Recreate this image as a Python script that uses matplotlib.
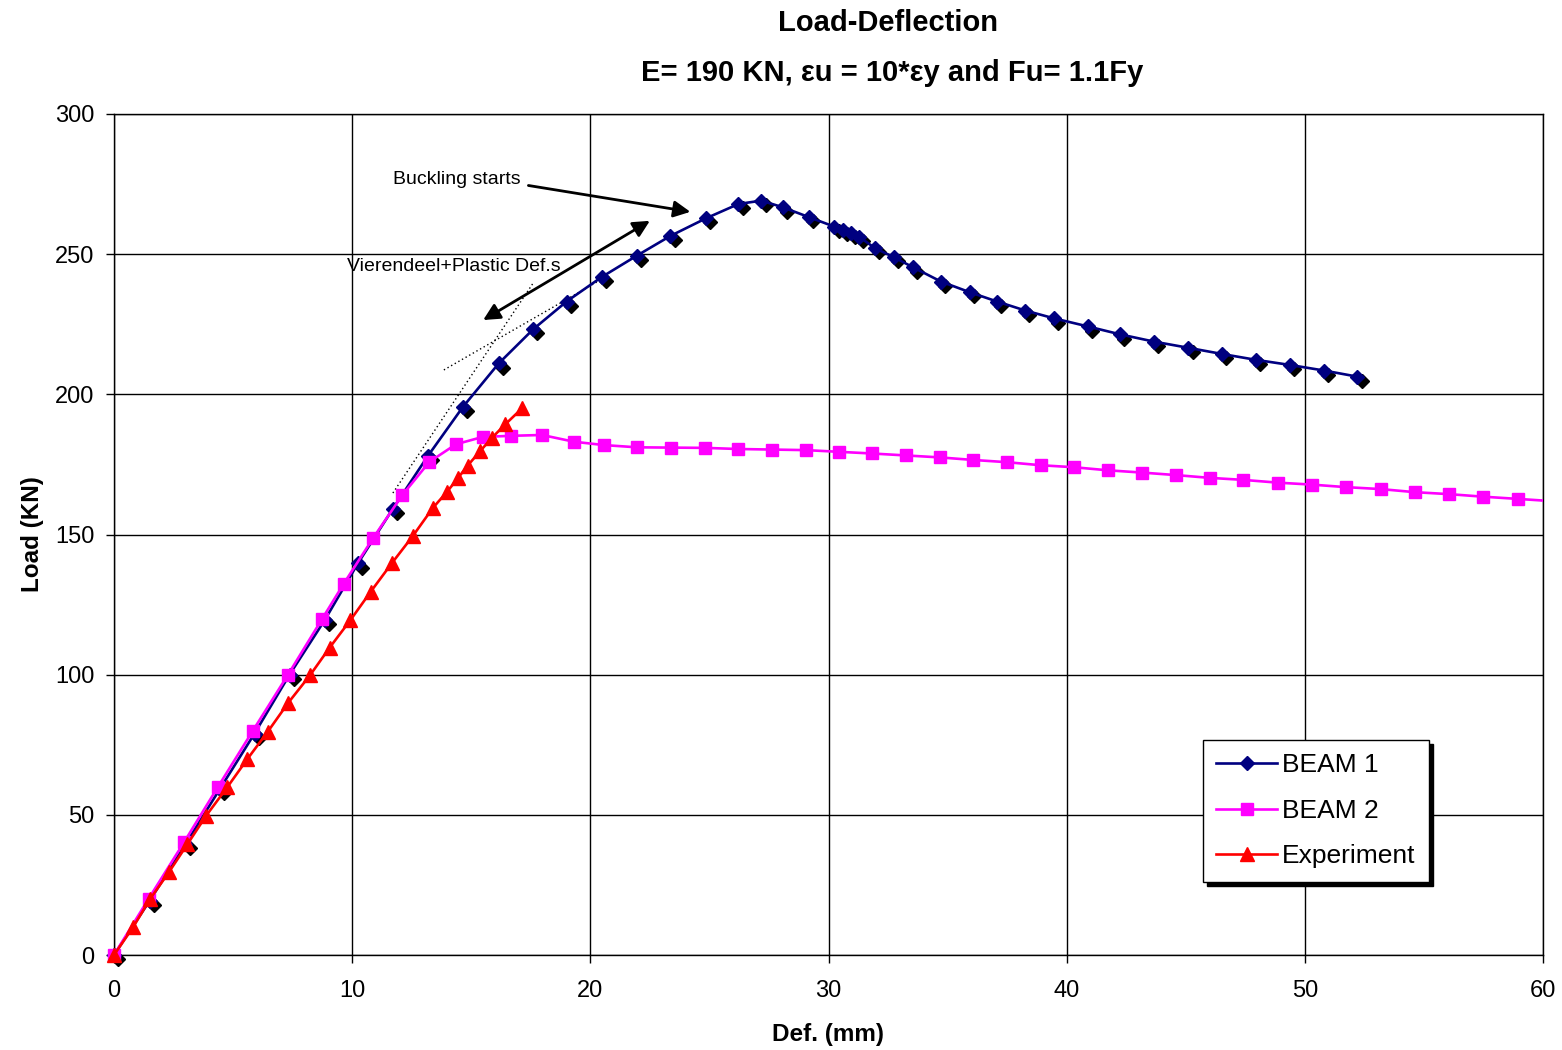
import matplotlib
matplotlib.use("Agg")
import matplotlib.pyplot as plt
from matplotlib.patches import Rectangle
from matplotlib.transforms import ScaledTranslation

plt.rcParams['font.family'] = ['Liberation Sans', 'DejaVu Sans']

# ---------------- data ----------------
beam1_x = [0.0, 1.5, 3.0, 4.45, 5.9, 7.37, 8.85, 10.24, 11.71, 13.17, 14.64, 16.15,
           17.6, 19.0, 20.47, 21.94, 23.36, 24.86, 26.22, 27.18, 28.09, 29.18,
           30.25, 30.59, 30.93, 31.27, 31.96, 32.75, 33.55, 34.73, 35.94, 37.08,
           38.26, 39.47, 40.9, 42.24, 43.67, 45.11, 46.52, 47.95, 49.36, 50.8, 52.21]
beam1_y = [0.0, 19.4, 39.5, 59.3, 79.0, 100.0, 119.5, 139.7, 159.2, 177.9, 195.4, 211.0,
           223.2, 233.1, 241.8, 249.4, 256.5, 262.8, 267.9, 269.1, 266.7, 263.2,
           259.8, 258.7, 257.7, 256.3, 252.1, 248.9, 245.3, 240.2, 236.4, 233.1,
           229.9, 227.1, 224.2, 221.4, 218.8, 216.6, 214.4, 212.3, 210.5, 208.5, 206.3]

beam2_x = [0.0, 1.45, 2.94, 4.36, 5.83, 7.3, 8.74, 9.65, 10.87, 12.1, 13.24, 14.36,
           15.48, 16.67, 17.97, 19.31, 20.57, 21.96, 23.38, 24.81, 26.2, 27.62,
           29.05, 30.43, 31.82, 33.25, 34.68, 36.06, 37.49, 38.92, 40.3, 41.73,
           43.15, 44.58, 46.01, 47.39, 48.86, 50.29, 51.72, 53.19, 54.62, 56.05,
           57.47, 58.94, 60.38]
beam2_y = [0.0, 20.0, 40.2, 59.9, 80.0, 99.9, 119.9, 132.5, 148.6, 164.0, 175.9, 182.2,
           184.8, 185.2, 185.5, 183.1, 181.9, 181.1, 181.0, 180.9, 180.5, 180.3,
           180.1, 179.5, 178.9, 178.2, 177.5, 176.6, 175.8, 174.7, 174.0, 172.9,
           172.1, 171.2, 170.2, 169.5, 168.5, 167.8, 166.9, 166.2, 165.1, 164.4,
           163.5, 162.7, 161.9]

exp_x = [0.0, 0.8, 1.5, 2.31, 3.08, 3.87, 4.76, 5.59, 6.46, 7.31, 8.24, 9.05, 9.93,
         10.77, 11.66, 12.55, 13.38, 13.99, 14.43, 14.85, 15.38, 15.87, 16.43, 17.13]
exp_y = [0.0, 9.9, 19.8, 29.6, 39.5, 49.7, 59.9, 69.8, 79.7, 89.9, 99.9, 109.6, 119.5,
         129.5, 139.7, 149.5, 159.4, 165.3, 170.0, 174.6, 179.8, 184.5, 189.3, 195.0]

series_names = ['BEAM 1', 'BEAM 2', 'Experiment']
x_ticks = [0, 10, 20, 30, 40, 50, 60]
y_ticks = [0, 50, 100, 150, 200, 250, 300]

# tangent (dotted) guide lines
tangent1_x = [11.71, 17.6]
tangent1_y = [164.8, 239.7]
tangent2_x = [13.85, 20.28]
tangent2_y = [208.7, 240.1]

# ---------------- figure ----------------
fig = plt.figure(figsize=(15.62, 10.5), dpi=100)
ax = fig.add_axes([114/1562, 1-955/1050, (1543-114)/1562, (955-114)/1050])

clip_rect = Rectangle((-0.05, -0.05), 1.05, 1.1, transform=ax.transAxes,
                      facecolor='none', edgecolor='none')
ax.add_patch(clip_rect)
clip_rect.set_visible(False)

# BEAM 1 shadow markers
shadow_tr = ax.transData + ScaledTranslation(3/72, -3/72, fig.dpi_scale_trans)
sh, = ax.plot(beam1_x, beam1_y, linestyle='none', marker='D', markersize=7.5,
              color='black', transform=shadow_tr, zorder=3)
sh.set_clip_path(clip_rect)

l1, = ax.plot(beam1_x, beam1_y, color='#000080', lw=1.9, marker='D', markersize=7.5,
              markerfacecolor='#000080', markeredgecolor='#000080', zorder=4,
              label=series_names[0])
l2, = ax.plot(beam2_x, beam2_y, color='#FF00FF', lw=1.9, marker='s', markersize=9,
              markerfacecolor='#FF00FF', markeredgecolor='#FF00FF', zorder=5,
              label=series_names[1])
l3, = ax.plot(exp_x, exp_y, color='#FF0000', lw=1.9, marker='^', markersize=10,
              markerfacecolor='#FF0000', markeredgecolor='#FF0000', zorder=6,
              label=series_names[2])
for ln in (l1, l2, l3):
    ln.set_clip_path(clip_rect)

ax.plot(tangent1_x, tangent1_y, color='black', lw=1, linestyle=(0, (1, 2)), zorder=3)
ax.plot(tangent2_x, tangent2_y, color='black', lw=1, linestyle=(0, (1, 2)), zorder=3)

ax.annotate('', xy=(24.2, 265.1), xytext=(17.4, 274.5),
            arrowprops=dict(arrowstyle='-|>', color='black', lw=2,
                            mutation_scale=25, shrinkA=0, shrinkB=0))
ax.annotate('', xy=(22.5, 261.9), xytext=(15.5, 226.5),
            arrowprops=dict(arrowstyle='<|-|>', color='black', lw=2,
                            mutation_scale=25, shrinkA=0, shrinkB=0))
ax.text(11.7, 276.5, 'Buckling starts', fontsize=14, ha='left', va='center')
ax.text(9.8, 245.5, 'Vierendeel+Plastic Def.s', fontsize=14, ha='left', va='center')

ax.set_xlim(0, 60)
ax.set_ylim(0, 300)
ax.set_xticks(x_ticks)
ax.set_yticks(y_ticks)
ax.tick_params(axis='both', labelsize=17, direction='out', length=6, width=1,
               color='black')
ax.tick_params(axis='x', pad=12)
ax.tick_params(axis='y', pad=8)
ax.grid(True, color='black', lw=1)
ax.set_axisbelow(True)
for sp in ax.spines.values():
    sp.set_color('black')
    sp.set_linewidth(1)

ax.set_xlabel('Def. (mm)', fontsize=17.5, fontweight='bold', labelpad=15)
ax.set_ylabel('Load (KN)', fontsize=17.5, fontweight='bold', labelpad=8)

fig.text(888/1562, 1-23/1050, 'Load-Deflection', fontsize=21, fontweight='bold',
         ha='center', va='center')
fig.text(892/1562, 1-73/1050, 'E= 190 KN, \u03b5u = 10*\u03b5y and Fu= 1.1Fy',
         fontsize=21, fontweight='bold', ha='center', va='center')

leg = ax.legend(loc='upper left', bbox_to_anchor=((1203-114)/1429, (955-740)/841),
                fontsize=19, frameon=True, fancybox=False,
                shadow={'color': 'black', 'alpha': 1, 'ox': 3, 'oy': -3},
                edgecolor='black', framealpha=1, borderpad=0.5, labelspacing=0.82,
                handlelength=2.3, handletextpad=0.2, borderaxespad=0)
leg.get_frame().set_linewidth(1)

fig.savefig('out.png', dpi=100)
